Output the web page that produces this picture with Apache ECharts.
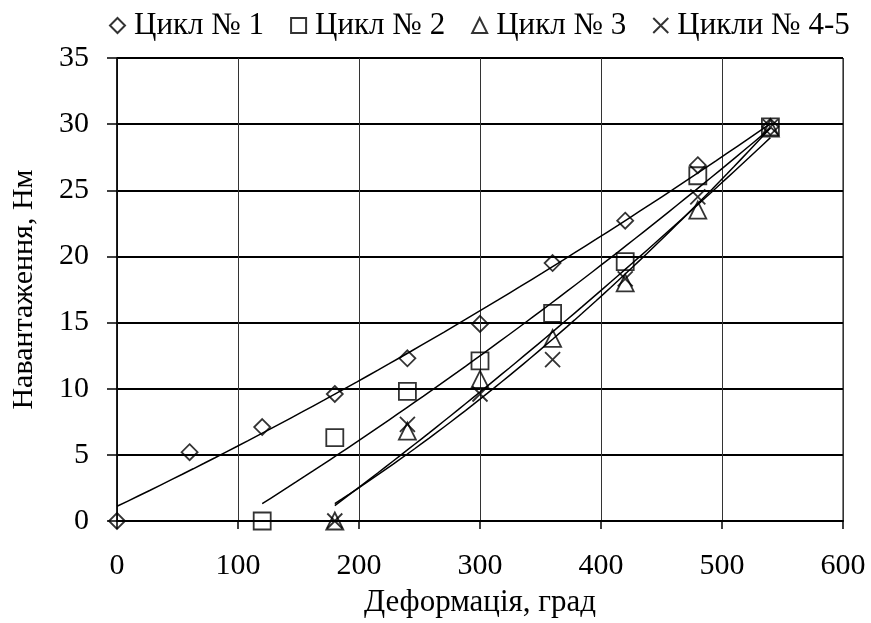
<!DOCTYPE html>
<html>
<head>
<meta charset="utf-8">
<script src="https://cdn.jsdelivr.net/npm/echarts@6/dist/echarts.min.js"></script>
<style>
  html, body { margin: 0; padding: 0; background: #fff; }
  #chart { width: 871px; height: 623px; }
</style>
</head>
<body>
<div id="chart"></div>
<script>
  const seriesNames = ['Цикл № 1', 'Цикл № 2', 'Цикл № 3', 'Цикли № 4-5'];

  const cycle1X = [0, 60, 120, 180, 240, 300, 360, 420, 480, 540];
  const cycle1Y = [0, 5.2, 7.1, 9.6, 12.3, 14.9, 19.5, 22.7, 26.9, 29.8];

  const cycle2X = [120, 180, 240, 300, 360, 420, 480, 540];
  const cycle2Y = [0, 6.3, 9.8, 12.1, 15.7, 19.6, 26.1, 29.8];

  const cycle3X = [180, 240, 300, 360, 420, 480, 540];
  const cycle3Y = [0, 6.8, 10.7, 13.8, 18.0, 23.5, 29.7];

  const cycle45X = [180, 240, 300, 360, 420, 480, 540];
  const cycle45Y = [0, 7.3, 9.6, 12.2, 18.3, 24.5, 29.8];

  const font = 'Liberation Serif';
  const crossPath = 'path://M0,0L10,10M10,0L0,10';

  function pairs(xs, ys) {
    return xs.map((x, i) => [x, ys[i]]);
  }

  // second order least-squares trendline, like the spreadsheet one
  function trend(xs, ys) {
    const n = xs.length;
    let s = [0, 0, 0, 0, 0], t = [0, 0, 0];
    xs.forEach((x, i) => {
      for (let k = 0; k <= 4; k++) s[k] += Math.pow(x, k);
      for (let k = 0; k <= 2; k++) t[k] += Math.pow(x, k) * ys[i];
    });
    const m = [
      [s[0], s[1], s[2], t[0]],
      [s[1], s[2], s[3], t[1]],
      [s[2], s[3], s[4], t[2]],
    ];
    for (let c = 0; c < 3; c++) {
      for (let r = c + 1; r < 3; r++) {
        const f = m[r][c] / m[c][c];
        for (let k = c; k < 4; k++) m[r][k] -= f * m[c][k];
      }
    }
    const coef = [0, 0, 0];
    for (let r = 2; r >= 0; r--) {
      let v = m[r][3];
      for (let k = r + 1; k < 3; k++) v -= m[r][k] * coef[k];
      coef[r] = v / m[r][r];
    }
    const out = [];
    const x0 = xs[0], x1 = xs[n - 1];
    for (let j = 0; j <= 60; j++) {
      const x = x0 + (x1 - x0) * j / 60;
      out.push([x, coef[0] + coef[1] * x + coef[2] * x * x]);
    }
    return out;
  }

  function markers(name, data, symbol, size) {
    return {
      name: name,
      type: 'scatter',
      data: data,
      symbol: symbol,
      symbolSize: size,
      z: 3,
      itemStyle: { color: 'transparent', borderColor: '#000', borderWidth: 1.8 },
      emphasis: { disabled: true },
    };
  }

  function trendLine(data) {
    return {
      type: 'line',
      data: data,
      showSymbol: false,
      silent: true,
      z: 2,
      lineStyle: { color: '#000', width: 1.5 },
    };
  }

  const chart = echarts.init(document.getElementById('chart'), null, { renderer: 'canvas' });

  const option = {
    animation: false,
    textStyle: { fontFamily: font },
    legend: {
      top: 5,
      left: 104,
      itemGap: 26,
      itemWidth: 15,
      itemHeight: 15,
      textStyle: { fontFamily: font, fontSize: 31, color: '#000', padding: [0, 0, 0, 4] },
      data: seriesNames.map((name) => ({ name: name })),
    },
    grid: { left: 117, right: 28, top: 58, bottom: 96, show: true, borderColor: '#000', borderWidth: 1 },
    xAxis: {
      type: 'value',
      min: 0,
      max: 600,
      interval: 100,
      name: 'Деформація, град',
      nameLocation: 'middle',
      nameGap: 66,
      nameTextStyle: { fontFamily: font, fontSize: 31, color: '#000' },
      axisLine: { lineStyle: { color: '#000', width: 2 } },
      axisTick: { show: true, length: 8, lineStyle: { color: '#000', width: 1.5 } },
      axisLabel: { fontFamily: font, fontSize: 30, color: '#000', margin: 30 },
      splitLine: { show: true, lineStyle: { color: '#333', width: 1 } },
    },
    yAxis: {
      type: 'value',
      min: 0,
      max: 35,
      interval: 5,
      name: 'Навантаження, Нм',
      nameLocation: 'middle',
      nameGap: 78,
      nameTextStyle: { fontFamily: font, fontSize: 30, color: '#000' },
      axisLine: { show: true, lineStyle: { color: '#000', width: 1.5 } },
      axisTick: { show: true, length: 10, lineStyle: { color: '#000', width: 1.5 } },
      axisLabel: { fontFamily: font, fontSize: 30, color: '#000', margin: 28 },
      splitLine: { show: true, lineStyle: { color: '#000', width: 2 } },
    },
    series: [
      trendLine(trend(cycle1X, cycle1Y)),
      trendLine(trend(cycle2X, cycle2Y)),
      trendLine(trend(cycle3X, cycle3Y)),
      trendLine(trend(cycle45X, cycle45Y)),
      markers(seriesNames[0], pairs(cycle1X, cycle1Y), 'diamond', 16),
      markers(seriesNames[1], pairs(cycle2X, cycle2Y), 'rect', 17),
      markers(seriesNames[2], pairs(cycle3X, cycle3Y), 'triangle', 17),
      markers(seriesNames[3], pairs(cycle45X, cycle45Y), crossPath, 15),
    ],
  };

  chart.setOption(option);
</script>
</body>
</html>
